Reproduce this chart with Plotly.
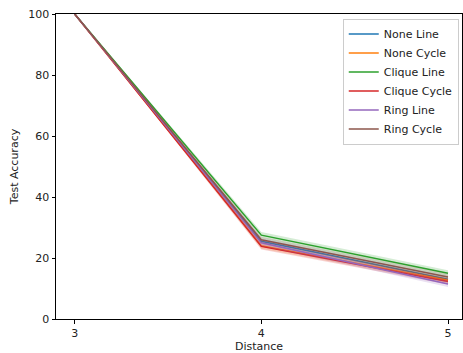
import plotly.graph_objects as go

distance = [3, 4, 5]
series_names = ["None Line", "None Cycle", "Clique Line", "Clique Cycle", "Ring Line", "Ring Cycle"]
none_line = [100, 25.5, 13.0]
none_cycle = [100, 24.0, 12.7]
clique_line = [100, 27.5, 15.0]
clique_cycle = [100, 23.8, 12.3]
ring_line = [100, 25.0, 11.5]
ring_cycle = [100, 26.0, 13.8]
spread = [0, 1.0, 1.0]

colors = ["#1f77b4", "#ff7f0e", "#2ca02c", "#d62728", "#9467bd", "#8c564b"]
all_vals = [none_line, none_cycle, clique_line, clique_cycle, ring_line, ring_cycle]

def rgba(h, a):
    h = h.lstrip("#")
    r, g, b = int(h[0:2], 16), int(h[2:4], 16), int(h[4:6], 16)
    return f"rgba({r},{g},{b},{a})"

fig = go.Figure()
for name, vals, c in zip(series_names, all_vals, colors):
    upper = [v + s for v, s in zip(vals, spread)]
    lower = [v - s for v, s in zip(vals, spread)]
    fig.add_trace(go.Scatter(x=distance, y=upper, mode="lines", line=dict(width=0, color=c),
                             showlegend=False, hoverinfo="skip"))
    fig.add_trace(go.Scatter(x=distance, y=lower, mode="lines", line=dict(width=0, color=c),
                             fill="tonexty", fillcolor=rgba(c, 0.2), showlegend=False, hoverinfo="skip"))
    fig.add_trace(go.Scatter(x=distance, y=vals, mode="lines", name=name,
                             line=dict(color=c, width=1.5)))

axis_common = dict(showline=True, linecolor="black", linewidth=1, mirror=True,
                   ticks="outside", ticklen=3.5, tickwidth=1, tickcolor="black",
                   showgrid=False, zeroline=False,
                   tickfont=dict(family="DejaVu Sans", size=11, color="#222222"))

fig.update_layout(
    width=463, height=353,
    margin=dict(l=56, r=1, t=14, b=34),
    paper_bgcolor="white", plot_bgcolor="white",
    font=dict(family="DejaVu Sans", size=11, color="#222222"),
    xaxis=dict(range=[2.9, 5.075], tickvals=distance, ticktext=["3", "4", "5"],
               title=dict(text="Distance", font=dict(size=11), standoff=5), **axis_common),
    yaxis=dict(range=[0, 100], tickvals=[0, 20, 40, 60, 80, 100],
               title=dict(text="Test Accuracy", font=dict(size=11), standoff=7), **axis_common),
    legend=dict(x=0.992, y=0.985, xanchor="right", yanchor="top", traceorder="normal",
                bgcolor="rgba(255,255,255,0.8)", bordercolor="#cccccc", borderwidth=1,
                font=dict(size=11), tracegroupgap=0, itemwidth=30),
)

fig.write_html("out.html", config={"displayModeBar": False},
               post_script="document.body.style.margin='0';document.body.style.overflow='hidden';")
